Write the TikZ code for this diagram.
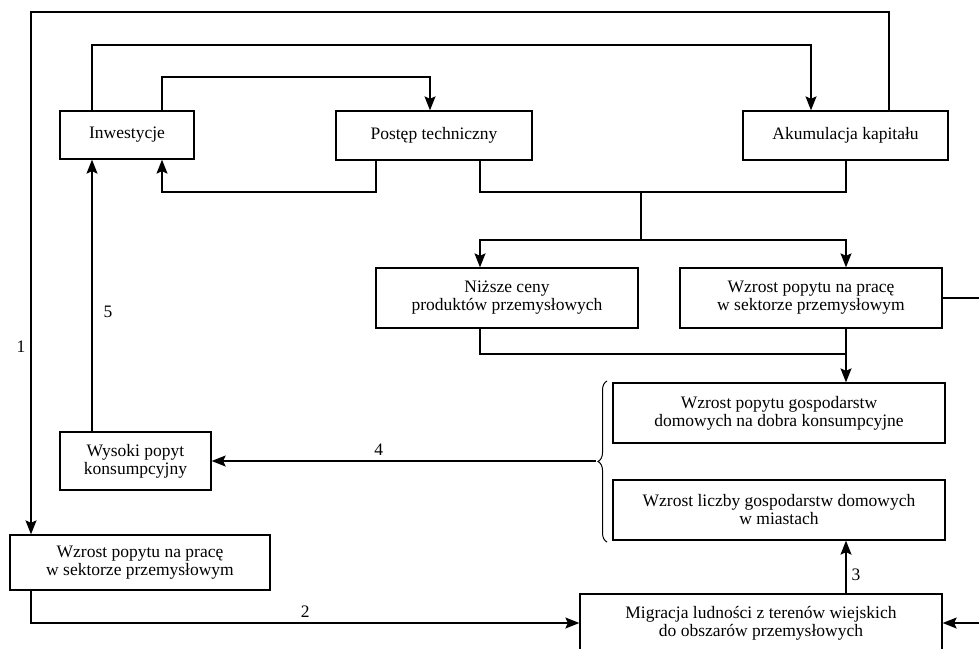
\documentclass[tikz,border=0pt]{standalone}
\usepackage{fontspec}
\setmainfont{Liberation Serif}
\usetikzlibrary{arrows.meta,decorations.pathreplacing}

\begin{document}
\begin{tikzpicture}[x=1pt,y=-1pt,
 font=\fontsize{17.5}{18}\selectfont,
 box/.style={draw, line width=1.3pt, align=center, inner sep=0pt},
 arr/.style={-{Stealth[length=14pt,width=11pt,inset=2.5pt]}, line width=1.3pt},
 lbl/.style={inner sep=5pt}]
\useasboundingbox (0,0) rectangle (979,648);
\clip (0,0) rectangle (979,648);
% columns and rows of the connectors
\coordinate (xa) at (31,0);  \coordinate (xb) at (92,0);  \coordinate (xc) at (162,0);
\coordinate (xd) at (376,0); \coordinate (xe) at (430,0); \coordinate (xf) at (480,0);
\coordinate (xg) at (641,0); \coordinate (xh) at (811,0); \coordinate (xi) at (846,0);
\coordinate (xj) at (889,0); \coordinate (xk) at (995,0);
\coordinate (ya) at (0,12);  \coordinate (yb) at (0,45);  \coordinate (yc) at (0,77);
\coordinate (yd) at (0,192); \coordinate (ye) at (0,240); \coordinate (yf) at (0,354);
% boxes
\node[box, minimum width=134, minimum height=48] (inwestycje) at (127,135) {Inwestycje};
\node[box, minimum width=196, minimum height=49] (postep) at (434,135.5) {Postęp techniczny};
\node[box, minimum width=205, minimum height=49] (akumulacja) at (845.5,135.5) {Akumulacja kapitału};
\node[box, minimum width=262, minimum height=60] (nizsze) at (507,298) {Niższe ceny\\produktów przemysłowych};
\node[box, minimum width=262, minimum height=60] (popytprzem) at (811,298) {Wzrost popytu na pracę\\w sektorze przemysłowym};
\node[box, minimum width=332, minimum height=60] (popytgosp) at (779,413) {Wzrost popytu gospodarstw\\domowych na dobra konsumpcyjne};
\node[box, minimum width=332, minimum height=60] (liczba) at (779,510) {Wzrost liczby gospodarstw domowych\\w miastach};
\node[box, minimum width=151, minimum height=58] (wysoki) at (135.5,461) {Wysoki popyt\\konsumpcyjny};
\node[box, minimum width=260, minimum height=55] (popytlewy) at (140,562.5) {Wzrost popytu na pracę\\w sektorze przemysłowym};
\node[box, minimum width=362, minimum height=58] (migracja) at (761,623) {Migracja ludności z terenów wiejskich\\do obszarów przemysłowych};
% brace round the two household boxes
\draw[decorate, decoration={brace, amplitude=9pt}, line width=1pt] (607,542) -- (607,381);
\coordinate (bracetip) at (596,461);
% connectors
\draw[arr] (akumulacja.north -| xj) |- (ya -| xa) -- node[lbl, pos=.64, left] {1} (popytlewy.north -| xa);
\draw[arr] (inwestycje.north -| xb) |- (yb -| xh) -- (akumulacja.north -| xh);
\draw[arr] (inwestycje.north -| xc) |- (yc -| xe) -- (postep.north -| xe);
\draw[arr] (postep.south -| xd) |- (yd -| xc) -- (inwestycje.south -| xc);
\draw[line width=1.3pt] (postep.south -| xf) |- (yd -| xi) -- (akumulacja.south -| xi);
\draw[line width=1.3pt] (yd -| xg) -- (ye -| xg);
\draw[arr] (ye -| xg) -| (nizsze.north -| xf);
\draw[arr] (ye -| xg) -| (popytprzem.north -| xi);
\draw[line width=1.3pt] (nizsze.south -| xf) |- (yf -| xi);
\draw[arr] (popytprzem.south -| xi) -- (popytgosp.north -| xi);
\draw[arr] (popytprzem.east) -| (migracja.east -| xk) -- (migracja.east);
\draw[arr] (migracja.north -| xi) -- node[lbl, pos=.35, right] {3} (liczba.south -| xi);
\draw[arr] (bracetip) -- node[lbl, pos=.565, above] {4} (wysoki.east);
\draw[arr] (wysoki.north -| xb) -- node[lbl, pos=.44, right, xshift=6pt] {5} (inwestycje.south -| xb);
\draw[arr] (popytlewy.south -| xa) |- node[lbl, pos=.75, above] {2} (migracja.west);
\end{tikzpicture}
\end{document}
